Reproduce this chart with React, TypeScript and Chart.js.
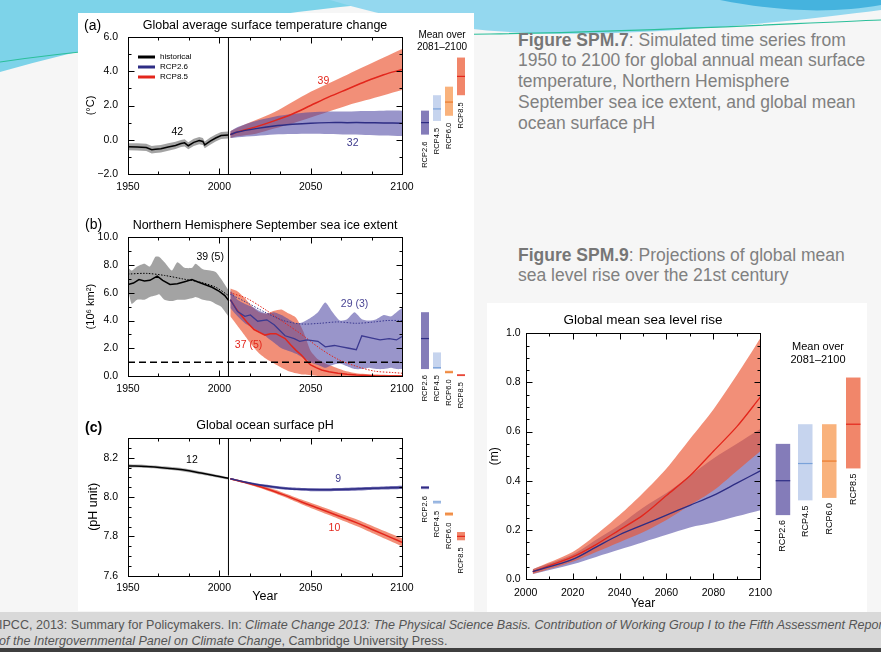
import React, { useEffect, useRef } from 'react';
import { Chart, registerables } from 'chart.js';

Chart.register(...registerables);

const FONT = "'Liberation Sans', Arial, Helvetica, sans-serif";
Chart.defaults.font.family = FONT;

// ---------------- (a) Global average surface temperature change ----------------
const tempHistYears = [1950, 1955, 1960, 1963, 1965, 1968, 1972, 1976, 1979, 1981, 1983, 1986, 1989, 1991, 1992, 1995, 1998, 2001, 2005];
const tempHistMean = [-0.41, -0.42, -0.45, -0.58, -0.55, -0.52, -0.42, -0.33, -0.22, -0.18, -0.35, -0.15, -0.05, -0.1, -0.3, -0.08, 0.1, 0.25, 0.28];
const tempHistHigh = [-0.2, -0.2, -0.24, -0.36, -0.33, -0.3, -0.2, -0.12, -0.02, 0.03, -0.14, 0.06, 0.16, 0.1, -0.1, 0.13, 0.3, 0.45, 0.48];
const tempHistLow = [-0.62, -0.63, -0.66, -0.8, -0.77, -0.74, -0.64, -0.54, -0.43, -0.39, -0.56, -0.36, -0.26, -0.31, -0.5, -0.29, -0.1, 0.05, 0.08];

const tempProjYears = [2006, 2010, 2020, 2030, 2040, 2050, 2060, 2070, 2080, 2090, 2100];
const tempRcp26Mean = [0.3, 0.45, 0.65, 0.8, 0.9, 0.97, 1.0, 1.0, 1.0, 0.98, 0.97];
const tempRcp26High = [0.5, 0.75, 1.1, 1.35, 1.5, 1.6, 1.65, 1.65, 1.68, 1.7, 1.7];
const tempRcp26Low = [0.1, 0.15, 0.22, 0.3, 0.33, 0.35, 0.33, 0.3, 0.28, 0.25, 0.22];
const tempRcp85Mean = [0.3, 0.45, 0.75, 1.1, 1.5, 2.0, 2.5, 2.95, 3.4, 3.8, 4.1];
const tempRcp85High = [0.5, 0.7, 1.15, 1.6, 2.2, 2.8, 3.3, 3.8, 4.3, 4.8, 5.3];
const tempRcp85Low = [0.1, 0.2, 0.35, 0.65, 0.95, 1.3, 1.65, 2.0, 2.3, 2.6, 2.9];

const tempSideLow = [0.3, 1.1, 1.4, 2.6];
const tempSideHigh = [1.7, 2.6, 3.1, 4.8];
const tempSideMid = [1.0, 1.8, 2.2, 3.7];

// ---------------- (b) Northern Hemisphere September sea ice extent ----------------
const iceHistYears = [1950, 1953, 1956, 1959, 1962, 1966, 1969, 1973, 1977, 1981, 1985, 1988, 1992, 1996, 2000, 2003, 2005];
const iceHistMean = [6.6, 6.7, 6.95, 6.85, 6.9, 7.2, 6.9, 6.6, 6.65, 6.8, 6.95, 6.8, 6.6, 6.4, 6.1, 5.8, 5.45];
const iceObsYears = [1950, 1960, 1970, 1980, 1990, 1998, 2005];
const iceObsMean = [7.35, 7.4, 7.25, 7.0, 6.75, 6.4, 5.8];
const iceHistBandYears = [1950, 1952, 1955, 1959, 1962, 1965, 1967, 1970, 1974, 1977, 1981, 1985, 1987, 1991, 1995, 1998, 2001, 2005];
const iceHistHigh = [7.8, 7.6, 7.9, 8.1, 7.9, 8.6, 8.6, 8.2, 7.6, 8.2, 7.8, 7.8, 8.1, 7.7, 7.6, 7.5, 7.0, 6.2];
const iceHistLow = [6.3, 5.2, 5.5, 5.5, 5.7, 5.8, 5.9, 5.5, 5.4, 5.5, 5.5, 5.6, 5.7, 5.5, 5.4, 5.2, 5.0, 4.3];

const ice26BandYears = [2006, 2010, 2014, 2018, 2022, 2026, 2030, 2034, 2038, 2042, 2046, 2050, 2054, 2058, 2062, 2066, 2070, 2074, 2078, 2082, 2086, 2090, 2094, 2097, 2100];
const ice26High = [6.2, 5.5, 5.2, 5.0, 4.7, 4.5, 4.6, 4.4, 4.1, 3.8, 3.9, 4.2, 4.6, 5.3, 4.6, 4.0, 4.1, 4.6, 4.1, 4.0, 4.1, 4.4, 4.3, 4.6, 4.9];
const ice26Low = [4.9, 4.3, 3.8, 3.5, 3.2, 2.8, 2.4, 2.0, 1.8, 1.6, 1.3, 1.0, 0.8, 0.6, 0.8, 0.9, 0.7, 0.5, 0.5, 0.6, 0.5, 0.5, 0.6, 0.5, 0.5];
const ice26Years = [2006, 2010, 2014, 2017, 2021, 2026, 2030, 2033, 2036, 2041, 2044, 2048, 2054, 2058, 2063, 2067, 2071, 2075, 2078, 2083, 2088, 2093, 2097, 2100];
const ice26Mean = [5.5, 4.65, 4.3, 4.4, 3.95, 4.05, 3.7, 3.3, 2.9, 2.7, 2.5, 2.6, 2.5, 2.1, 2.2, 2.1, 2.0, 1.9, 2.9, 2.75, 2.6, 2.7, 2.6, 2.85];
const ice26DotYears = [2006, 2015, 2025, 2035, 2045, 2055, 2065, 2075, 2085, 2092, 2100];
const ice26Dot = [5.9, 5.3, 4.6, 4.0, 3.75, 3.8, 3.9, 3.8, 3.9, 4.0, 4.0];

const ice85BandYears = [2006, 2010, 2014, 2018, 2022, 2026, 2030, 2034, 2038, 2042, 2046, 2050, 2054, 2058, 2062, 2068, 2075, 2085, 2100];
const ice85High = [6.3, 6.1, 5.6, 5.0, 4.6, 4.5, 4.7, 4.8, 4.5, 4.2, 3.2, 1.8, 1.2, 0.9, 0.7, 0.4, 0.2, 0.1, 0.05];
const ice85Low = [4.3, 3.6, 2.9, 2.2, 1.6, 1.2, 0.9, 0.6, 0.35, 0.2, 0.1, 0.05, 0, 0, 0, 0, 0, 0, 0];
const ice85Years = [2006, 2010, 2015, 2019, 2025, 2028, 2031, 2036, 2039, 2042, 2045, 2048, 2050, 2053, 2056, 2060, 2065, 2070, 2075, 2085, 2100];
const ice85Mean = [5.5, 4.7, 3.9, 3.35, 2.95, 3.05, 3.05, 2.7, 2.25, 1.85, 1.5, 1.05, 0.8, 0.6, 0.43, 0.3, 0.2, 0.12, 0.07, 0.02, 0];
const ice85DotYears = [2006, 2015, 2025, 2035, 2045, 2055, 2065, 2075, 2085, 2095, 2100];
const ice85Dot = [6.0, 5.6, 4.8, 3.9, 3.0, 2.0, 1.2, 0.7, 0.35, 0.25, 0.2];
const iceThresholdYears = [1950, 2100];
const iceThreshold = [1.0, 1.0];

const iceSideLow = [0.5, 0.5, 0.19, 0.04];
const iceSideHigh = [4.6, 1.7, 0.38, 0.1];
const iceSideMid = [2.7, 0.6, 0.28, 0.07];

// ---------------- (c) Global ocean surface pH ----------------
const phHistYears = [1950, 1960, 1970, 1980, 1990, 2000, 2005];
const phHistMean = [8.158, 8.155, 8.148, 8.138, 8.122, 8.104, 8.095];
const phHistHigh = [8.166, 8.163, 8.156, 8.146, 8.13, 8.111, 8.101];
const phHistLow = [8.15, 8.147, 8.14, 8.13, 8.114, 8.097, 8.089];
const ph26Years = [2006, 2015, 2025, 2035, 2045, 2055, 2065, 2080, 2090, 2100];
const ph26Mean = [8.093, 8.074, 8.057, 8.045, 8.039, 8.037, 8.038, 8.043, 8.046, 8.049];
const ph26High = [8.097, 8.079, 8.063, 8.052, 8.046, 8.045, 8.046, 8.051, 8.054, 8.057];
const ph26Low = [8.089, 8.069, 8.051, 8.038, 8.032, 8.029, 8.03, 8.035, 8.038, 8.041];
const ph85Years = [2006, 2015, 2025, 2035, 2045, 2055, 2065, 2075, 2085, 2095, 2100];
const ph85Mean = [8.093, 8.072, 8.045, 8.012, 7.975, 7.94, 7.905, 7.87, 7.83, 7.79, 7.77];
const ph85High = [8.097, 8.078, 8.053, 8.022, 7.987, 7.954, 7.92, 7.887, 7.848, 7.81, 7.79];
const ph85Low = [8.089, 8.066, 8.037, 8.002, 7.963, 7.926, 7.89, 7.853, 7.812, 7.77, 7.75];

const phSideLow = [8.04, 7.965, 7.905, 7.78];
const phSideHigh = [8.056, 7.982, 7.922, 7.822];
const phSideMid = [8.048, 7.975, 7.914, 7.8];

// ---------------- Global mean sea level rise ----------------
const slrYears = [2003, 2020, 2030, 2040, 2050, 2060, 2070, 2080, 2090, 2100];
const slr26Mean = [0.03, 0.08, 0.13, 0.18, 0.22, 0.26, 0.3, 0.34, 0.39, 0.44];
const slr26High = [0.04, 0.1, 0.16, 0.22, 0.29, 0.35, 0.42, 0.49, 0.55, 0.61];
const slr26Low = [0.02, 0.06, 0.09, 0.12, 0.15, 0.18, 0.21, 0.23, 0.255, 0.28];
const slr85Mean = [0.03, 0.09, 0.14, 0.2, 0.26, 0.34, 0.42, 0.52, 0.62, 0.74];
const slr85High = [0.04, 0.11, 0.18, 0.26, 0.35, 0.45, 0.57, 0.69, 0.83, 0.98];
const slr85Low = [0.02, 0.07, 0.11, 0.15, 0.19, 0.24, 0.3, 0.36, 0.44, 0.52];

const slrSideLow = [0.26, 0.32, 0.33, 0.45];
const slrSideHigh = [0.55, 0.63, 0.63, 0.82];
const slrSideMid = [0.4, 0.47, 0.48, 0.63];

const scenarioLabels = ['RCP2.6', 'RCP4.5', 'RCP6.0', 'RCP8.5'];

// ---------------- styles ----------------
const C_BLUE = '#2e2d84';
const C_RED = '#e3261c';
const C_PURPLE_BAND = 'rgba(80,72,163,0.58)';
const C_RED_BAND = 'rgba(236,85,50,0.66)';
const C_GREY_BAND = 'rgba(0,0,0,0.36)';
const SIDE_FILL = ['#847cb9', '#c6d4ee', '#f9b27c', '#f1866a'];
const SIDE_LINE = ['#2e2d84', '#7aa2d9', '#ea7a2c', '#e3261c'];

const zip = (xs: number[], ys: number[]) => xs.map((x, i) => ({ x, y: ys[i] }));

function line(xs: number[], ys: number[], color: string, width: number, order: number, extra: any = {}) {
  return { data: zip(xs, ys), borderColor: color, borderWidth: width, pointRadius: 0, fill: false, order, ...extra };
}
function band(xs: number[], hi: number[], lo: number[], color: string, order: number, tension = 0) {
  return [
    { data: zip(xs, hi), borderColor: 'rgba(0,0,0,0)', borderWidth: 0, pointRadius: 0, fill: '+1', backgroundColor: color, order, tension },
    { data: zip(xs, lo), borderColor: 'rgba(0,0,0,0)', borderWidth: 0, pointRadius: 0, fill: false, order, tension },
  ];
}

// ---------------- plugin: frame, inward ticks, labels, side bars ----------------
const decorPlugin = {
  id: 'decor',
  afterDraw(chart: any) {
    const o = chart.options.plugins.decor;
    if (!o) return;
    const ctx = chart.ctx;
    const ca = chart.chartArea;
    const xs = chart.scales.x;
    const ys = chart.scales.y;
    ctx.save();
    const L = Math.round(ca.left) + 0.5;
    const R = Math.round(ca.right) + 0.5;
    const T = Math.round(ca.top) + 0.5;
    const B = Math.round(ca.bottom) + 0.5;
    ctx.strokeStyle = '#000';
    ctx.lineWidth = 1;
    ctx.strokeRect(L, T, R - L, B - T);
    ctx.beginPath();
    const xt = (v: number, len: number) => {
      const p = Math.round(xs.getPixelForValue(v)) + 0.5;
      ctx.moveTo(p, B); ctx.lineTo(p, B - len);
      ctx.moveTo(p, T); ctx.lineTo(p, T + len);
    };
    const yt = (v: number, len: number) => {
      const p = Math.round(ys.getPixelForValue(v)) + 0.5;
      ctx.moveTo(L, p); ctx.lineTo(L + len, p);
      ctx.moveTo(R, p); ctx.lineTo(R - len, p);
    };
    for (let i = 0; ; i++) {
      const v = xs.min + i * o.xMinor;
      if (v > xs.max + 1e-6) break;
      xt(v, 3);
    }
    for (let i = 0; ; i++) {
      const v = ys.min + i * o.yMinor;
      if (v > ys.max + 1e-6) break;
      yt(v, 3);
    }
    xs.ticks.forEach((t: any) => xt(t.value, 6));
    ys.ticks.forEach((t: any) => { if (t.label !== '') yt(t.value, 6); });
    ctx.stroke();

    // panel tag
    if (o.tag) {
      ctx.fillStyle = '#000';
      ctx.font = `${o.tag.bold ? 'bold ' : ''}14px ${FONT}`;
      ctx.textAlign = 'left';
      ctx.textBaseline = 'middle';
      ctx.fillText(o.tag.text, o.tag.x, o.tag.y);
    }

    // annotations in data units
    (o.notes || []).forEach((n: any) => {
      ctx.fillStyle = n.color;
      ctx.font = `10.5px ${FONT}`;
      ctx.textAlign = 'center';
      ctx.textBaseline = 'middle';
      ctx.fillText(n.text, xs.getPixelForValue(n.x), ys.getPixelForValue(n.y));
    });

    // legend
    if (o.legend) {
      const lg = o.legend;
      ctx.font = `8px ${FONT}`;
      ctx.textAlign = 'left';
      ctx.textBaseline = 'middle';
      lg.items.forEach((it: any, i: number) => {
        const y = ca.top + lg.y + i * lg.dy;
        ctx.strokeStyle = it.color;
        ctx.lineWidth = 3;
        ctx.beginPath();
        ctx.moveTo(ca.left + lg.x, y);
        ctx.lineTo(ca.left + lg.x + 17, y);
        ctx.stroke();
        ctx.fillStyle = '#000';
        ctx.fillText(it.label, ca.left + lg.x + 22, y);
      });
    }

    // side bars (mean over 2081-2100)
    if (o.side) {
      const s = o.side;
      s.low.forEach((lo: number, i: number) => {
        const x0 = ca.right + s.offsets[i];
        const yTop = ys.getPixelForValue(s.high[i]);
        const yBot = ys.getPixelForValue(lo);
        ctx.fillStyle = SIDE_FILL[i];
        ctx.fillRect(x0, yTop, s.width, Math.max(yBot - yTop, 1.5));
        const yMid = ys.getPixelForValue(s.mid[i]);
        ctx.strokeStyle = SIDE_LINE[i];
        ctx.lineWidth = 1.2;
        ctx.beginPath();
        ctx.moveTo(x0, yMid);
        ctx.lineTo(x0 + s.width, yMid);
        ctx.stroke();
        ctx.save();
        ctx.translate(x0 + s.width / 2, Math.max(yBot, yTop + 1.5) + s.gap);
        ctx.rotate(-Math.PI / 2);
        ctx.fillStyle = '#000';
        ctx.font = `${s.labelFont}px ${FONT}`;
        ctx.textAlign = 'right';
        ctx.textBaseline = 'middle';
        ctx.fillText(scenarioLabels[i], 0, 0);
        ctx.restore();
      });
      if (s.header) {
        ctx.fillStyle = '#000';
        ctx.font = `${s.header.font}px ${FONT}`;
        ctx.textAlign = 'center';
        ctx.textBaseline = 'middle';
        s.header.lines.forEach((t: string, i: number) => {
          ctx.fillText(t, ca.right + s.header.dx, s.header.y + i * s.header.dy);
        });
      }
    }
    ctx.restore();
  },
};

function makeOptions(p: any) {
  return {
    responsive: false,
    animation: false,
    devicePixelRatio: 1,
    events: [],
    layout: { padding: { left: 0, right: p.padRight, top: 0, bottom: 0 } },
    elements: { line: { tension: 0 } },
    plugins: {
      legend: { display: false },
      tooltip: { enabled: false },
      title: {
        display: true,
        text: p.title,
        fullSize: false,
        color: '#000',
        font: { family: FONT, size: p.titleSize, weight: 'normal' },
        padding: { top: p.titlePad[0], bottom: p.titlePad[1] },
      },
      decor: p.decor,
    },
    scales: {
      x: {
        type: 'linear',
        min: p.x[0],
        max: p.x[1],
        afterFit: (s: any) => { s.height = p.xHeight; },
        ticks: {
          stepSize: p.x[2],
          padding: p.xPad,
          color: '#000',
          font: { family: FONT, size: p.tickSize },
          maxRotation: 0,
          autoSkip: false,
          callback: (v: any) => String(v),
        },
        grid: { display: false, drawTicks: false },
        border: { display: false },
        title: p.xTitle
          ? { display: true, text: p.xTitle, color: '#000', font: { family: FONT, size: p.xTitleSize }, padding: { top: 0, bottom: p.xTitlePad } }
          : { display: false },
      },
      y: {
        type: 'linear',
        min: p.y[0],
        max: p.y[1],
        afterFit: (s: any) => { s.width = p.yWidth; },
        ticks: {
          stepSize: p.y[2],
          padding: p.yPad,
          color: '#000',
          font: { family: FONT, size: p.tickSize },
          autoSkip: false,
          callback: p.yFmt,
        },
        grid: { display: false, drawTicks: false },
        border: { display: false },
        title: { display: true, text: p.yTitle, color: '#000', font: { family: FONT, size: p.yTitleSize }, padding: { top: p.yTitlePad, bottom: 0 } },
      },
    },
  };
}

const fmt1 = (v: number) => (v < 0 ? '\u2212' + Math.abs(v).toFixed(1) : v.toFixed(1));

function configA() {
  return {
    type: 'line',
    data: {
      datasets: [
        line(tempHistYears, tempHistMean, '#000', 1.5, 1),
        line(tempProjYears, tempRcp26Mean, C_BLUE, 1.5, 1, { tension: 0.3 }),
        line(tempProjYears, tempRcp85Mean, C_RED, 1.5, 1, { tension: 0.3 }),
        line([2005, 2005], [-2, 6], '#000', 1, 0),
        ...band(tempHistYears, tempHistHigh, tempHistLow, C_GREY_BAND, 5),
        ...band(tempProjYears, tempRcp26High, tempRcp26Low, C_PURPLE_BAND, 4, 0.3),
        ...band(tempProjYears, tempRcp85High, tempRcp85Low, C_RED_BAND, 6, 0.3),
      ],
    },
    options: makeOptions({
      title: 'Global average surface temperature change', titleSize: 12.5, titlePad: [5.5, 3.5],
      padRight: 76, x: [1950, 2100, 50], xHeight: 39, xPad: 7, tickSize: 10.5,
      y: [-2, 6, 2], yWidth: 50, yPad: 10, yFmt: fmt1, yTitle: '(\u00B0C)', yTitleSize: 11, yTitlePad: 6.4,
      decor: {
        xMinor: 50 / 3, yMinor: 1,
        tag: { text: '(a)', x: 6, y: 13 },
        notes: [
          { text: '42', x: 1977, y: 0.45, color: '#000' },
          { text: '39', x: 2057, y: 3.45, color: C_RED },
          { text: '32', x: 2073, y: -0.2, color: '#3d3a8c' },
        ],
        legend: { x: 10, y: 20, dy: 10, items: [
          { label: 'historical', color: '#000' },
          { label: 'RCP2.6', color: C_BLUE },
          { label: 'RCP8.5', color: C_RED },
        ] },
        side: {
          offsets: [19, 31, 43, 55], width: 8, gap: 7, labelFont: 7.5,
          low: tempSideLow, high: tempSideHigh, mid: tempSideMid,
          header: { lines: ['Mean over', '2081\u20132100'], dx: 40, y: 22, dy: 12, font: 10 },
        },
      },
    }),
    plugins: [decorPlugin],
  };
}

function configB() {
  return {
    type: 'line',
    data: {
      datasets: [
        line(iceHistYears, iceHistMean, '#000', 1.5, 1),
        line(iceObsYears, iceObsMean, '#000', 1, 1, { borderDash: [1.5, 1.5], tension: 0.3 }),
        line(ice26Years, ice26Mean, '#3b3990', 1.3, 1),
        line(ice26DotYears, ice26Dot, '#3b3990', 1, 1, { borderDash: [1.5, 1.5], tension: 0.3 }),
        line(ice85Years, ice85Mean, C_RED, 1.5, 1),
        line(ice85DotYears, ice85Dot, C_RED, 1, 1, { borderDash: [1.5, 1.5], tension: 0.3 }),
        line(iceThresholdYears, iceThreshold, '#000', 1.5, 0, { borderDash: [7, 4] }),
        line([2005, 2005], [0, 10], '#000', 1, 0),
        ...band(iceHistBandYears, iceHistHigh, iceHistLow, C_GREY_BAND, 5, 0.2),
        ...band(ice85BandYears, ice85High, ice85Low, C_RED_BAND, 6, 0.2),
        ...band(ice26BandYears, ice26High, ice26Low, C_PURPLE_BAND, 4, 0.2),
      ],
    },
    options: makeOptions({
      title: 'Northern Hemisphere September sea ice extent', titleSize: 12.5, titlePad: [15.2, 4.1],
      padRight: 76, x: [1950, 2100, 50], xHeight: 42, xPad: 7, tickSize: 10.5,
      y: [0, 10, 2], yWidth: 50, yPad: 10, yFmt: fmt1, yTitle: '(10\u2076 km\u00B2)', yTitleSize: 11, yTitlePad: 6.4,
      decor: {
        xMinor: 50 / 3, yMinor: 1,
        tag: { text: '(b)', x: 7, y: 22 },
        notes: [
          { text: '39 (5)', x: 1995, y: 8.6, color: '#000' },
          { text: '29 (3)', x: 2074, y: 5.2, color: '#4a4595' },
          { text: '37 (5)', x: 2016, y: 2.2, color: C_RED },
        ],
        side: {
          offsets: [19, 31, 43, 55], width: 8, gap: 6, labelFont: 7.5,
          low: iceSideLow, high: iceSideHigh, mid: iceSideMid,
        },
      },
    }),
    plugins: [decorPlugin],
  };
}

function configC() {
  return {
    type: 'line',
    data: {
      datasets: [
        line(phHistYears, phHistMean, '#000', 1.5, 1, { tension: 0.4 }),
        line(ph26Years, ph26Mean, '#2e2d84', 1.5, 1, { tension: 0.4 }),
        line(ph85Years, ph85Mean, C_RED, 1.5, 1, { tension: 0.4 }),
        line([2005, 2005], [7.6, 8.3], '#000', 1, 0),
        ...band(phHistYears, phHistHigh, phHistLow, 'rgba(0,0,0,0.3)', 5, 0.4),
        ...band(ph85Years, ph85High, ph85Low, C_RED_BAND, 6, 0.4),
        ...band(ph26Years, ph26High, ph26Low, 'rgba(70,64,155,0.75)', 4, 0.4),
      ],
    },
    options: makeOptions({
      title: 'Global ocean surface pH', titleSize: 12.5, titlePad: [15.2, 4.8],
      padRight: 76, x: [1950, 2100, 50], xHeight: 36.3, xPad: 6, tickSize: 10.5,
      xTitle: 'Year', xTitleSize: 12.5, xTitlePad: 8,
      y: [7.6, 8.3, 0.2], yWidth: 50, yPad: 10,
      yFmt: (v: number) => (Math.abs((v - 7.6) / 0.2 - Math.round((v - 7.6) / 0.2)) < 0.01 ? v.toFixed(1) : ''),
      yTitle: '(pH unit)', yTitleSize: 12.5, yTitlePad: 8.5,
      decor: {
        xMinor: 50 / 3, yMinor: 0.05,
        tag: { text: '(c)', x: 7, y: 25, bold: true },
        notes: [
          { text: '12', x: 1985, y: 8.19, color: '#000' },
          { text: '9', x: 2065, y: 8.09, color: '#3d3a8c' },
          { text: '10', x: 2063, y: 7.84, color: C_RED },
        ],
        side: {
          offsets: [19, 31, 43, 55], width: 8, gap: 7, labelFont: 7.5,
          low: phSideLow, high: phSideHigh, mid: phSideMid,
        },
      },
    }),
    plugins: [decorPlugin],
  };
}

function configSL() {
  return {
    type: 'line',
    data: {
      datasets: [
        line(slrYears, slr26Mean, '#2e2d84', 1.3, 1, { tension: 0.3 }),
        line(slrYears, slr85Mean, C_RED, 1.3, 1, { tension: 0.3 }),
        ...band(slrYears, slr85High, slr85Low, C_RED_BAND, 4, 0.3),
        ...band(slrYears, slr26High, slr26Low, C_PURPLE_BAND, 6, 0.3),
      ],
    },
    options: makeOptions({
      title: 'Global mean sea level rise', titleSize: 13.5, titlePad: [7.6, 4.5],
      padRight: 120.7, x: [2000, 2100, 20], xHeight: 33, xPad: 8, tickSize: 10.5,
      xTitle: 'Year', xTitleSize: 12, xTitlePad: 0.8,
      y: [0, 1.0, 0.2], yWidth: 38.7, yPad: 5, yFmt: (v: number) => v.toFixed(1),
      yTitle: '(m)', yTitleSize: 12, yTitlePad: 0.8,
      decor: {
        xMinor: 10, yMinor: 0.05,
        side: {
          offsets: [15.4, 37.7, 61.7, 85.7], width: 14.5, gap: 5, labelFont: 9,
          low: slrSideLow, high: slrSideHigh, mid: slrSideMid,
          header: { lines: ['Mean over', '2081\u20132100'], dx: 57.7, y: 41.7, dy: 13.3, font: 11 },
        },
      },
    }),
    plugins: [decorPlugin],
  };
}

function ChartCanvas({ make, left, top, width, height }: any) {
  const ref = useRef<HTMLCanvasElement>(null);
  useEffect(() => {
    const chart = new Chart(ref.current as HTMLCanvasElement, make());
    return () => chart.destroy();
  }, []);
  return (
    <canvas
      ref={ref}
      width={width}
      height={height}
      style={{ position: 'absolute', left, top, width, height }}
    />
  );
}

const textGrey = '#808080';

export default function App() {
  return (
    <div
      style={{
        position: 'absolute', left: 0, top: 0, width: 881, height: 652, overflow: 'hidden',
        background: '#f6f6f6', fontFamily: FONT,
      }}
    >
      <svg width={881} height={90} style={{ position: 'absolute', left: 0, top: 0 }}>
        <path d="M0,0 H420 C300,8 150,30 0,72 Z" fill="#7dd3e9" />
        <path d="M330,0 C430,30 520,38 640,32 C740,27 820,18 881,10 V0 Z" fill="#94d8ef" />
        <path d="M720,0 C790,14 840,12 881,5 V0 Z" fill="#45b3de" />
        <path d="M0,62 C150,40 300,36 490,34 C640,32 780,24 881,20" stroke="#2bbf9a" strokeWidth={1.2} fill="none" />
      </svg>

      <div style={{ position: 'absolute', left: 78, top: 13, width: 396, height: 598, background: '#fff' }} />
      <div style={{ position: 'absolute', left: 487, top: 303, width: 380, height: 311, background: '#fff' }} />

      <ChartCanvas make={configA} left={78} top={13} width={400} height={200} />
      <ChartCanvas make={configB} left={78} top={203} width={400} height={215} />
      <ChartCanvas make={configC} left={78} top={403} width={400} height={209} />
      <ChartCanvas make={configSL} left={487} top={305} width={394} height={307} />

      <div style={{ position: 'absolute', left: 518, top: 29.5, fontSize: 17.5, lineHeight: '20.8px', color: textGrey, whiteSpace: 'nowrap' }}>
        <b style={{ color: '#767676' }}>Figure SPM.7</b>: Simulated time series from<br />
        1950 to 2100 for global annual mean surface<br />
        temperature, Northern Hemisphere<br />
        September sea ice extent, and global mean<br />
        ocean surface pH
      </div>
      <div style={{ position: 'absolute', left: 518, top: 244.5, fontSize: 17.5, lineHeight: '20.5px', color: textGrey, whiteSpace: 'nowrap' }}>
        <b style={{ color: '#767676' }}>Figure SPM.9</b>: Projections of global mean<br />
        sea level rise over the 21st century
      </div>

      <div style={{ position: 'absolute', left: 0, top: 612, width: 881, height: 36, background: '#d9d9d9' }} />
      <div style={{ position: 'absolute', left: 0, top: 648, width: 881, height: 4, background: '#3f3f3f' }} />
      <div
        style={{
          position: 'absolute', left: -1, top: 617, fontSize: 13, lineHeight: '15.5px', color: '#555',
          whiteSpace: 'nowrap', transform: 'scaleX(0.965)', transformOrigin: 'left top',
        }}
      >
        IPCC, 2013: Summary for Policymakers. In: <i>Climate Change 2013: The Physical Science Basis. Contribution of Working Group I to the Fifth Assessment Report</i><br />
        <i>of the Intergovernmental Panel on Climate Change</i>, Cambridge University Press.
      </div>
    </div>
  );
}
